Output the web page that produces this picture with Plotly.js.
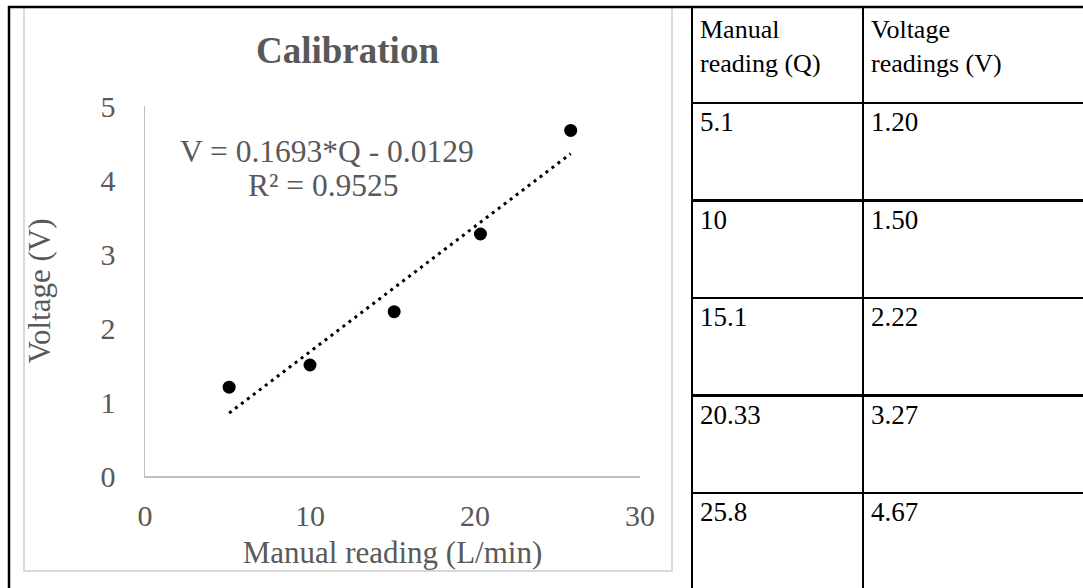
<!DOCTYPE html>
<html><head><meta charset="utf-8">
<script src="https://cdn.plot.ly/plotly-3.0.1.min.js"></script>
<style>html,body{margin:0;padding:0;overflow:hidden;background:#fff;width:1083px;height:588px}</style>
</head><body><div id="chart"></div>
<script>
// ---- data ----
const manualQ = [5.1, 10, 15.1, 20.33, 25.8];
const voltageV = [1.20, 1.50, 2.22, 3.27, 4.67];
const trendQ = [5.1, 25.8];
const trendV = [0.85, 4.355];
const tableHeader = ["Manual<br>reading (Q)", "Voltage<br>readings (V)"];
const qLabels = ["5.1", "10", "15.1", "20.33", "25.8"];
const vLabels = ["1.20", "1.50", "2.22", "3.27", "4.67"];
const xTicks = [0, 10, 20, 30];
const yTicks = [0, 1, 2, 3, 4, 5];
const chartTitle = "Calibration";
const xTitle = "Manual reading (L/min)";
const yTitle = "Voltage (V)";
const equationText = "V = 0.1693*Q - 0.0129";
const r2Text = "R² = 0.9525";

// ---- layout helpers (pixel -> paper) ----
const W = 1100, H = 600;
const px = x => x / W, py = y => 1 - y / H;
const SERIF = "Liberation Serif, Times New Roman, serif";
const GREY = "#595959";

const traces = [
  {type: "scatter", mode: "lines", x: trendQ, y: trendV, xaxis: "x", yaxis: "y",
   line: {color: "#000", width: 3, dash: "3px,4.5px"}, hoverinfo: "skip", showlegend: false},
  {type: "scatter", mode: "markers", x: manualQ, y: voltageV, xaxis: "x", yaxis: "y",
   marker: {color: "#000", size: 13}, showlegend: false},
  {type: "table", columnwidth: [171, 234],
   domain: {x: [px(692), px(1097)], y: [py(590.5), py(7)]},
   header: {values: tableHeader, align: "left", height: 96,
            line: {color: "#000", width: 2.5}, fill: {color: "#fff"},
            font: {family: SERIF, size: 26, color: "#000"}},
   cells: {values: [qLabels, vLabels], align: "left", height: 97.5,
           line: {color: "#000", width: 2.5}, fill: {color: "#fff"},
           font: {family: SERIF, size: 27, color: "#000"}}}
];

const layout = {
  width: W, height: H,
  margin: {l: 0, r: 0, t: 0, b: 0},
  paper_bgcolor: "#fff", plot_bgcolor: "#fff",
  showlegend: false,
  xaxis: {domain: [px(145), px(640)], range: [0, 30], tickvals: xTicks,
          showline: true, linecolor: "#bfbfbf", linewidth: 1.5, showgrid: false, zeroline: false,
          ticks: "", ticklabelstandoff: 12, fixedrange: true,
          tickfont: {family: SERIF, size: 30, color: GREY},
          title: {text: xTitle, standoff: 11, font: {family: SERIF, size: 31, color: GREY}}},
  yaxis: {domain: [py(476), py(106)], range: [0, 5], tickvals: yTicks,
          showline: true, linecolor: "#bfbfbf", linewidth: 1.5, showgrid: false, zeroline: false,
          ticks: "", ticklabelstandoff: 22, fixedrange: true,
          tickfont: {family: SERIF, size: 30, color: GREY},
          title: {text: yTitle, standoff: 40, font: {family: SERIF, size: 31, color: GREY}}},
  title: {text: "<b>" + chartTitle + "</b>", x: px(347.5), xanchor: "center", y: py(50), yanchor: "middle",
          font: {family: SERIF, size: 37, color: GREY}},
  annotations: [
    {text: equationText, xref: "paper", yref: "paper", x: px(327), y: py(151), xanchor: "center", yanchor: "middle",
     showarrow: false, font: {family: SERIF, size: 31.5, color: GREY}},
    {text: r2Text, xref: "paper", yref: "paper", x: px(323), y: py(185), xanchor: "center", yanchor: "middle",
     showarrow: false, font: {family: SERIF, size: 31.5, color: GREY}}
  ],
  shapes: [
    {type: "rect", xref: "paper", yref: "paper", x0: px(24), x1: px(672), y0: py(571), y1: py(7),
     line: {color: "#d9d9d9", width: 2}, fillcolor: "rgba(0,0,0,0)", layer: "below"},
    {type: "line", xref: "paper", yref: "paper", x0: px(9), x1: px(9), y0: py(6), y1: py(600),
     line: {color: "#000", width: 2.5}},
    {type: "line", xref: "paper", yref: "paper", x0: px(8), x1: px(1100), y0: py(7), y1: py(7),
     line: {color: "#000", width: 2.5}}
  ]
};

Plotly.newPlot("chart", traces, layout, {staticPlot: true, displayModeBar: false});
</script>
</body></html>
